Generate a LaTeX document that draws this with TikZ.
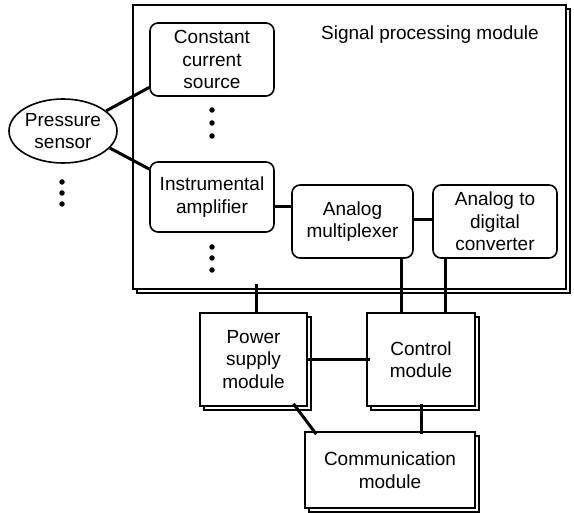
\documentclass[tikz,border=0pt]{standalone}
\usepackage{fontspec}
\setmainfont{Liberation Sans}
\usetikzlibrary{shapes.geometric,shadows,calc}
\begin{document}
\begin{tikzpicture}[x=1pt,y=-1pt,
  txt/.style={font=\fontsize{19}{22.5}\selectfont, align=center},
  rbox/.style={txt, draw, line width=1.6pt, rounded corners=8pt, inner sep=0pt, fill=white},
  mbox/.style={txt, draw, line width=1.6pt, inner sep=0pt, fill=white,
    general shadow={draw, fill=white, line width=1.6pt, shadow xshift=4pt, shadow yshift=-4pt}},
  conn/.style={line width=3pt},
  dotc/.style={circle, fill=black, inner sep=0pt, minimum size=5.5pt}]
\useasboundingbox (0,0) rectangle (574,513);
% signal processing module
\node[mbox, minimum width=433pt, minimum height=284pt] (sig) at (349.5,147) {};
\node[txt] (sigl) at (430,35) {Signal processing module};
% inner blocks
\node[rbox, minimum width=124pt, minimum height=73pt] (ccs) at (212,59.5) {Constant\\current\\source};
\node[rbox, minimum width=124pt, minimum height=70pt] (ia) at (212,197) {Instrumental\\amplifier};
\node[rbox, minimum width=121pt, minimum height=73pt] (am) at (352.5,221.5) {Analog\\multiplexer};
\node[rbox, minimum width=124pt, minimum height=73pt] (adc) at (495,221.5) {Analog to\\digital\\converter};
% sensor
\node[txt, draw, ellipse, line width=1.6pt, inner sep=0pt, minimum width=108pt, minimum height=64pt] (ps) at (63,131) {Pressure\\sensor};
% dots
\node[dotc] (d1) at (62,182) {};
\node[dotc] (d2) at (62,193) {};
\node[dotc] (d3) at (62,204) {};
\node[dotc] (d4) at (212,110) {};
\node[dotc] (d5) at (212,123) {};
\node[dotc] (d6) at (212,136) {};
\node[dotc] (d7) at (212,247) {};
\node[dotc] (d8) at (212,258) {};
\node[dotc] (d9) at (212,270) {};
% lower modules
\node[mbox, minimum width=107pt, minimum height=93pt] (pw) at (253.5,359.5) {Power\\supply\\module};
\node[mbox, minimum width=108pt, minimum height=93pt] (ctrl) at (421,359.5) {Control\\module};
\node[mbox, minimum width=170pt, minimum height=76pt] (comm) at (390,470) {Communication\\module};
% connectors
\draw[conn] (ps.25) -- (ccs.204);
\draw[conn] (ps.-20) -- (ia.156);
\draw[conn] ([yshift=-10pt]ia.east) -- ([yshift=-10pt]ia.east -| am.west);
\draw[conn] ([yshift=1.5pt]am.east) -- ([yshift=1.5pt]adc.west);
\draw[conn] ([xshift=-12pt]am.south east) -- ([xshift=-12pt]am.south east |- ctrl.north);
\draw[conn] ([xshift=13pt]adc.south west) -- ([xshift=13pt]adc.south west |- ctrl.north);
\draw[conn] ([xshift=2.5pt]pw.north) -- ([xshift=2.5pt,yshift=6pt]pw.north |- sig.south);
\draw[conn] ([xshift=-2pt]pw.east) -- ([xshift=4pt]ctrl.west);
\draw[conn] ([shift={(40pt,3pt)}]pw.south) -- ([shift={(12pt,-3pt)}]comm.north west);
\draw[conn] ([yshift=3pt]ctrl.south) -- ([yshift=-3pt]ctrl.south |- comm.north);
\end{tikzpicture}
\end{document}
